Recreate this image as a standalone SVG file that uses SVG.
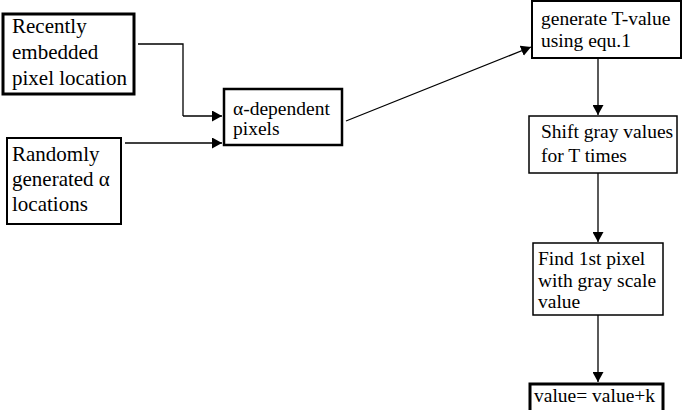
<svg xmlns="http://www.w3.org/2000/svg" width="684" height="410" viewBox="0 0 684 410">
<defs>
<marker id="ah" markerWidth="10" markerHeight="11" refX="10" refY="5.5" orient="auto" markerUnits="userSpaceOnUse">
<path d="M0,0 L10,5.5 L0,11 Z" fill="#000"/>
</marker>
<style>
.box{fill:#fff;stroke:#000}
.t{font-family:'Liberation Serif','Times New Roman',serif;fill:#000}
.c{fill:none;stroke:#000;stroke-width:1.3}
</style>
</defs>
<rect width="684" height="410" fill="#fff"/>
<g id="connectors">
<polyline class="c" points="138,44 183,44 183,116"/>
<line class="c" x1="183" y1="116" x2="222" y2="116" stroke-width="2.5" marker-end="url(#ah)"/>
<line class="c" x1="125" y1="143" x2="222" y2="143" marker-end="url(#ah)"/>
<line class="c" x1="346" y1="121" x2="531" y2="47" marker-end="url(#ah)"/>
<line class="c" x1="598" y1="58" x2="598" y2="115" marker-end="url(#ah)"/>
<line class="c" x1="598" y1="173" x2="598" y2="242" marker-end="url(#ah)"/>
<line class="c" x1="598" y1="315" x2="598" y2="382" marker-end="url(#ah)"/>
</g>
<g id="n1">
<rect class="box" x="3" y="14" width="131" height="80" stroke-width="3"/>
<text class="t" font-size="21"><tspan x="12" y="33">Recently</tspan><tspan x="12" y="59">embedded</tspan><tspan x="12" y="85">pixel location</tspan></text>
</g>
<g id="n2">
<rect class="box" x="7" y="138" width="114" height="86" stroke-width="2"/>
<text class="t" font-size="21"><tspan x="12" y="161">Randomly</tspan><tspan x="12" y="186">generated α</tspan><tspan x="12" y="211">locations</tspan></text>
</g>
<g id="n3">
<rect class="box" x="224" y="89" width="118" height="56" stroke-width="2.5"/>
<text class="t" font-size="19.5"><tspan x="233" y="115">α-dependent</tspan><tspan x="233" y="135">pixels</tspan></text>
</g>
<g id="n4">
<rect class="box" x="532" y="1" width="149" height="57" stroke-width="2"/>
<text class="t" font-size="19.5"><tspan x="541" y="25">generate T-value</tspan><tspan x="541" y="47">using equ.1</tspan></text>
</g>
<g id="n5">
<rect class="box" x="529" y="116" width="148" height="57" stroke-width="1.5"/>
<text class="t" font-size="19.5"><tspan x="541" y="138">Shift gray values</tspan><tspan x="541" y="162">for T times</tspan></text>
</g>
<g id="n6">
<rect class="box" x="533" y="243" width="130" height="72" stroke-width="1.5"/>
<text class="t" font-size="19.5"><tspan x="538" y="265">Find 1st pixel</tspan><tspan x="538" y="287">with gray scale</tspan><tspan x="538" y="308">value</tspan></text>
</g>
<g id="n7">
<rect class="box" x="530" y="384" width="133" height="30" stroke-width="3"/>
<text class="t" font-size="19.5"><tspan x="534" y="402">value= value+k</tspan></text>
</g>
</svg>
